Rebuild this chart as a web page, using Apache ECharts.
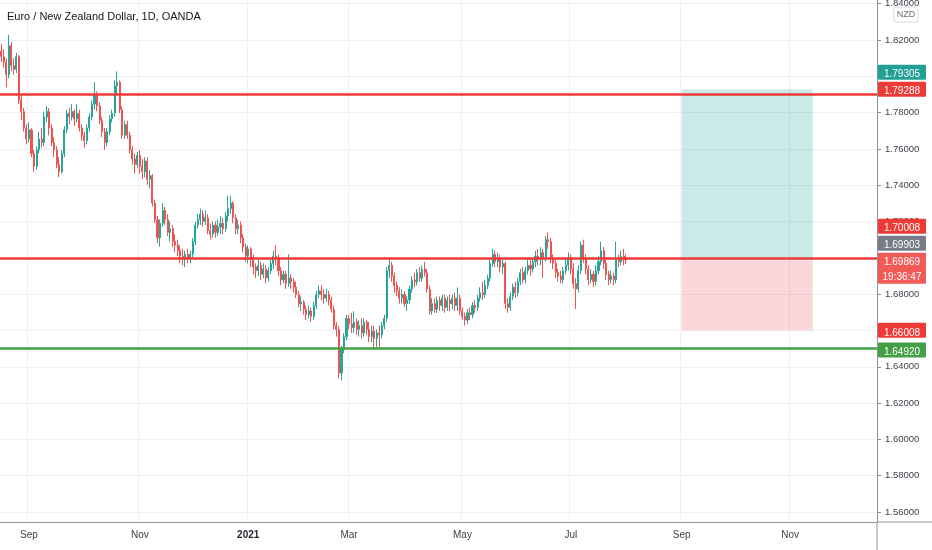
<!DOCTYPE html>
<html>
<head>
<meta charset="utf-8">
<title>EUR/NZD 1D</title>
<script src="https://cdn.jsdelivr.net/npm/echarts@6/dist/echarts.min.js"></script>
<style>
  html, body { margin: 0; padding: 0; background: #fff; }
  #chart { width: 932px; height: 550px; }
</style>
</head>
<body>
<div id="chart"></div>
<script>
// daily bars from 2020-08-17, [open, close, low, high]
var candles = [
  [1.8138, 1.8108, 1.8078, 1.8178], [1.8108, 1.8078, 1.8048, 1.8148], [1.8078, 1.8008, 1.7938, 1.8098],
  [1.8008, 1.8168, 1.7988, 1.8228], [1.8168, 1.8058, 1.8028, 1.8188], [1.8058, 1.8038, 1.8008, 1.8098],
  [1.8038, 1.8108, 1.8018, 1.8128], [1.8107, 1.7867, 1.7847, 1.8117], [1.7867, 1.7807, 1.7757, 1.7897],
  [1.7805, 1.7715, 1.7695, 1.7825], [1.7715, 1.7655, 1.7625, 1.7735], [1.7655, 1.7705, 1.7635, 1.7745],
  [1.7704, 1.7574, 1.7554, 1.7714], [1.7574, 1.7504, 1.7474, 1.7594], [1.7504, 1.7594, 1.7484, 1.7614],
  [1.7595, 1.7655, 1.7575, 1.7695], [1.7655, 1.7635, 1.7605, 1.7715], [1.7635, 1.7775, 1.7615, 1.7805],
  [1.7776, 1.7806, 1.7746, 1.7836], [1.7805, 1.7715, 1.7675, 1.7825], [1.7715, 1.7635, 1.7615, 1.7735],
  [1.7634, 1.7594, 1.7554, 1.7664], [1.7594, 1.7514, 1.7494, 1.7614], [1.7514, 1.7474, 1.7444, 1.7554],
  [1.7474, 1.7574, 1.7464, 1.7594], [1.7575, 1.7705, 1.7555, 1.7725], [1.7706, 1.7796, 1.7686, 1.7816],
  [1.7796, 1.7776, 1.7736, 1.7826], [1.7776, 1.7806, 1.7756, 1.7846], [1.7806, 1.7766, 1.7726, 1.7816],
  [1.7766, 1.7796, 1.7746, 1.7846], [1.7795, 1.7715, 1.7695, 1.7815], [1.7715, 1.7675, 1.7645, 1.7735],
  [1.7675, 1.7645, 1.7605, 1.7695], [1.7645, 1.7715, 1.7625, 1.7735], [1.7716, 1.7776, 1.7696, 1.7796],
  [1.7776, 1.7846, 1.7756, 1.7866], [1.7847, 1.7897, 1.7817, 1.7967], [1.7897, 1.7837, 1.7807, 1.7917],
  [1.7836, 1.7756, 1.7736, 1.7856], [1.7755, 1.7695, 1.7665, 1.7775], [1.7695, 1.7635, 1.7595, 1.7715],
  [1.7635, 1.7695, 1.7615, 1.7715], [1.7695, 1.7765, 1.7675, 1.7785], [1.7766, 1.7796, 1.7746, 1.7816],
  [1.7797, 1.7947, 1.7777, 1.7977], [1.7947, 1.7967, 1.7897, 1.8027], [1.7967, 1.7817, 1.7797, 1.7977],
  [1.7815, 1.7675, 1.7655, 1.7835], [1.7675, 1.7735, 1.7655, 1.7755], [1.7735, 1.7675, 1.7655, 1.7755],
  [1.7674, 1.7594, 1.7574, 1.7694], [1.7594, 1.7544, 1.7514, 1.7614], [1.7544, 1.7514, 1.7464, 1.7574],
  [1.7514, 1.7564, 1.7494, 1.7584], [1.7564, 1.7504, 1.7464, 1.7594], [1.7504, 1.7474, 1.7434, 1.7544],
  [1.7474, 1.7534, 1.7444, 1.7554], [1.7533, 1.7433, 1.7403, 1.7553], [1.7433, 1.7453, 1.7383, 1.7483],
  [1.7452, 1.7302, 1.7282, 1.7462], [1.7301, 1.7211, 1.7191, 1.7321], [1.7210, 1.7110, 1.7080, 1.7230],
  [1.7111, 1.7191, 1.7061, 1.7211], [1.7191, 1.7261, 1.7171, 1.7301], [1.7261, 1.7211, 1.7181, 1.7281],
  [1.7210, 1.7140, 1.7120, 1.7240], [1.7140, 1.7160, 1.7090, 1.7200], [1.7160, 1.7090, 1.7060, 1.7180],
  [1.7090, 1.7070, 1.7030, 1.7130], [1.7070, 1.7040, 1.7010, 1.7100], [1.7039, 1.7009, 1.6969, 1.7069],
  [1.7009, 1.6999, 1.6959, 1.7049], [1.6999, 1.7019, 1.6949, 1.7039], [1.7019, 1.6999, 1.6969, 1.7049],
  [1.6999, 1.7019, 1.6969, 1.7039], [1.7020, 1.7090, 1.7000, 1.7110], [1.7090, 1.7180, 1.7070, 1.7200],
  [1.7181, 1.7211, 1.7161, 1.7241], [1.7211, 1.7241, 1.7181, 1.7271], [1.7241, 1.7201, 1.7171, 1.7261],
  [1.7201, 1.7221, 1.7181, 1.7261], [1.7220, 1.7150, 1.7130, 1.7240], [1.7150, 1.7130, 1.7100, 1.7190],
  [1.7130, 1.7180, 1.7110, 1.7200], [1.7180, 1.7140, 1.7110, 1.7200], [1.7140, 1.7170, 1.7120, 1.7210],
  [1.7170, 1.7190, 1.7130, 1.7230], [1.7190, 1.7160, 1.7130, 1.7220], [1.7161, 1.7231, 1.7141, 1.7251],
  [1.7231, 1.7271, 1.7201, 1.7341], [1.7271, 1.7301, 1.7241, 1.7341], [1.7301, 1.7221, 1.7191, 1.7311],
  [1.7220, 1.7160, 1.7130, 1.7240], [1.7160, 1.7180, 1.7130, 1.7210], [1.7180, 1.7110, 1.7080, 1.7200],
  [1.7110, 1.7060, 1.7030, 1.7130], [1.7059, 1.7009, 1.6979, 1.7079], [1.7009, 1.7049, 1.6969, 1.7069],
  [1.7049, 1.6999, 1.6949, 1.7059], [1.6999, 1.6949, 1.6909, 1.7019], [1.6949, 1.6929, 1.6889, 1.6969],
  [1.6929, 1.6959, 1.6899, 1.6989], [1.6959, 1.6909, 1.6879, 1.6979], [1.6909, 1.6939, 1.6889, 1.6969],
  [1.6939, 1.6889, 1.6859, 1.6959], [1.6889, 1.6929, 1.6869, 1.6949], [1.6929, 1.6969, 1.6909, 1.6989],
  [1.6969, 1.7009, 1.6939, 1.7039], [1.7009, 1.6999, 1.6959, 1.7069], [1.6999, 1.6929, 1.6899, 1.7019],
  [1.6929, 1.6879, 1.6849, 1.6949], [1.6879, 1.6909, 1.6859, 1.6929], [1.6909, 1.6859, 1.6829, 1.6929],
  [1.6859, 1.6889, 1.6839, 1.7019], [1.6889, 1.6869, 1.6829, 1.6909], [1.6868, 1.6838, 1.6808, 1.6888],
  [1.6838, 1.6798, 1.6778, 1.6868], [1.6797, 1.6747, 1.6727, 1.6817], [1.6747, 1.6757, 1.6707, 1.6787],
  [1.6757, 1.6717, 1.6687, 1.6767], [1.6717, 1.6687, 1.6657, 1.6737], [1.6687, 1.6707, 1.6667, 1.6737],
  [1.6707, 1.6677, 1.6647, 1.6727], [1.6677, 1.6737, 1.6657, 1.6757], [1.6737, 1.6797, 1.6717, 1.6817],
  [1.6798, 1.6818, 1.6778, 1.6848], [1.6818, 1.6798, 1.6768, 1.6848], [1.6798, 1.6778, 1.6748, 1.6828],
  [1.6778, 1.6798, 1.6758, 1.6828], [1.6798, 1.6768, 1.6738, 1.6818], [1.6767, 1.6717, 1.6697, 1.6787],
  [1.6716, 1.6626, 1.6606, 1.6736], [1.6626, 1.6606, 1.6566, 1.6646], [1.6605, 1.6365, 1.6335, 1.6625],
  [1.6365, 1.6495, 1.6325, 1.6515], [1.6495, 1.6565, 1.6475, 1.6585], [1.6566, 1.6666, 1.6546, 1.6686],
  [1.6666, 1.6636, 1.6606, 1.6686], [1.6636, 1.6616, 1.6586, 1.6696], [1.6616, 1.6646, 1.6586, 1.6706],
  [1.6646, 1.6606, 1.6576, 1.6666], [1.6606, 1.6626, 1.6566, 1.6656], [1.6626, 1.6586, 1.6556, 1.6666],
  [1.6586, 1.6646, 1.6566, 1.6666], [1.6646, 1.6606, 1.6576, 1.6656], [1.6606, 1.6566, 1.6536, 1.6646],
  [1.6566, 1.6596, 1.6536, 1.6626], [1.6596, 1.6556, 1.6506, 1.6626], [1.6556, 1.6586, 1.6506, 1.6606],
  [1.6586, 1.6576, 1.6506, 1.6626], [1.6576, 1.6626, 1.6556, 1.6646], [1.6626, 1.6666, 1.6606, 1.6686],
  [1.6668, 1.6928, 1.6648, 1.6948], [1.6928, 1.6958, 1.6888, 1.6988], [1.6958, 1.6898, 1.6868, 1.6978],
  [1.6898, 1.6848, 1.6808, 1.6918], [1.6848, 1.6818, 1.6788, 1.6868], [1.6818, 1.6778, 1.6748, 1.6838],
  [1.6778, 1.6798, 1.6748, 1.6828], [1.6798, 1.6748, 1.6728, 1.6818], [1.6748, 1.6768, 1.6708, 1.6788],
  [1.6768, 1.6828, 1.6748, 1.6848], [1.6828, 1.6878, 1.6808, 1.6898], [1.6878, 1.6868, 1.6838, 1.6918],
  [1.6868, 1.6918, 1.6848, 1.6938], [1.6918, 1.6888, 1.6868, 1.6948], [1.6888, 1.6938, 1.6868, 1.6958],
  [1.6938, 1.6918, 1.6898, 1.6978], [1.6918, 1.6828, 1.6808, 1.6938], [1.6827, 1.6707, 1.6687, 1.6847],
  [1.6707, 1.6747, 1.6687, 1.6777], [1.6747, 1.6717, 1.6697, 1.6777], [1.6717, 1.6767, 1.6697, 1.6787],
  [1.6767, 1.6737, 1.6707, 1.6787], [1.6737, 1.6777, 1.6707, 1.6797], [1.6777, 1.6727, 1.6697, 1.6797],
  [1.6727, 1.6767, 1.6707, 1.6787], [1.6767, 1.6747, 1.6707, 1.6797], [1.6747, 1.6777, 1.6717, 1.6797],
  [1.6777, 1.6737, 1.6707, 1.6807], [1.6737, 1.6777, 1.6707, 1.6837], [1.6777, 1.6707, 1.6687, 1.6797],
  [1.6707, 1.6677, 1.6657, 1.6727], [1.6677, 1.6657, 1.6627, 1.6697], [1.6657, 1.6697, 1.6637, 1.6717],
  [1.6697, 1.6687, 1.6657, 1.6727], [1.6687, 1.6737, 1.6667, 1.6757], [1.6737, 1.6727, 1.6697, 1.6767],
  [1.6727, 1.6777, 1.6707, 1.6797], [1.6778, 1.6808, 1.6758, 1.6838], [1.6808, 1.6798, 1.6768, 1.6868],
  [1.6798, 1.6848, 1.6778, 1.6878], [1.6848, 1.6888, 1.6828, 1.6908], [1.6889, 1.6969, 1.6869, 1.6999],
  [1.6969, 1.7019, 1.6949, 1.7049], [1.7019, 1.6979, 1.6949, 1.7039], [1.6979, 1.6999, 1.6949, 1.7029],
  [1.6999, 1.6949, 1.6919, 1.7019], [1.6949, 1.6969, 1.6909, 1.6999], [1.6969, 1.6749, 1.6719, 1.6979],
  [1.6747, 1.6727, 1.6697, 1.6777], [1.6727, 1.6787, 1.6707, 1.6807], [1.6788, 1.6838, 1.6768, 1.6858],
  [1.6838, 1.6808, 1.6778, 1.6868], [1.6808, 1.6868, 1.6788, 1.6888], [1.6869, 1.6919, 1.6849, 1.6939],
  [1.6919, 1.6879, 1.6859, 1.6949], [1.6879, 1.6929, 1.6859, 1.6949], [1.6929, 1.6959, 1.6909, 1.6989],
  [1.6959, 1.6939, 1.6899, 1.6999], [1.6939, 1.6979, 1.6919, 1.6999], [1.6979, 1.7009, 1.6949, 1.7039],
  [1.7009, 1.6999, 1.6959, 1.7049], [1.6999, 1.7029, 1.6959, 1.7059], [1.7029, 1.6999, 1.6889, 1.7049],
  [1.7000, 1.7100, 1.6980, 1.7120], [1.7100, 1.7090, 1.7050, 1.7140], [1.7090, 1.7000, 1.6970, 1.7110],
  [1.6999, 1.6969, 1.6939, 1.7019], [1.6969, 1.6919, 1.6889, 1.6989], [1.6919, 1.6899, 1.6869, 1.6939],
  [1.6899, 1.6879, 1.6859, 1.6929], [1.6879, 1.6929, 1.6859, 1.6949], [1.6929, 1.6959, 1.6909, 1.6999],
  [1.6959, 1.6999, 1.6929, 1.7029], [1.6999, 1.6939, 1.6909, 1.7019], [1.6939, 1.6859, 1.6829, 1.6969],
  [1.6858, 1.6828, 1.6718, 1.6888], [1.6829, 1.6929, 1.6809, 1.6959], [1.6930, 1.7070, 1.6910, 1.7090],
  [1.7070, 1.7000, 1.6970, 1.7100], [1.6999, 1.6939, 1.6909, 1.7019], [1.6939, 1.6879, 1.6849, 1.6959],
  [1.6879, 1.6909, 1.6859, 1.6939], [1.6909, 1.6869, 1.6839, 1.6929], [1.6869, 1.6929, 1.6849, 1.6959],
  [1.6929, 1.6979, 1.6909, 1.7009], [1.6979, 1.7039, 1.6959, 1.7089], [1.7039, 1.6969, 1.6939, 1.7059],
  [1.6969, 1.6909, 1.6879, 1.6989], [1.6909, 1.6879, 1.6849, 1.6929], [1.6879, 1.6899, 1.6859, 1.6929],
  [1.6899, 1.6879, 1.6849, 1.6919], [1.6879, 1.6999, 1.6859, 1.7089], [1.6999, 1.6979, 1.6949, 1.7019],
  [1.6979, 1.7009, 1.6959, 1.7039], [1.7009, 1.6989, 1.6959, 1.7049], [1.6989, 1.69869, 1.6965, 1.7019]
];

var firstDay = "2020-08-17";
var lastDay = "2021-12-17";
var closedDays = ["2020-12-25", "2021-01-01"];

var monthTicks = ["2020-09-01", "2020-11-02", "2021-01-04", "2021-03-01", "2021-05-03", "2021-07-01", "2021-09-01", "2021-11-01"];
var monthLabels = ["Sep", "Nov", "2021", "Mar", "May", "Jul", "Sep", "Nov"];

var priceTicks = [1.56, 1.58, 1.60, 1.62, 1.64, 1.66, 1.68, 1.70, 1.72, 1.74, 1.76, 1.78, 1.80, 1.82, 1.84];

var resistance = 1.79288;
var entry = 1.69869;
var support = 1.6492;
var stopLoss = 1.66008;
var tradeFrom = "2021-09-01";
var tradeTo = "2021-11-12";

var tagValues = [1.79305, 1.79288, 1.70008, 1.69903, 1.69869, 1.66008, 1.6492];
var tagColors = ["#22a095", "#ee3a36", "#ee3a36", "#787b86", "#f15a57", "#ee3a36", "#43a047"];
var countdown = "19:36:47";

function tradingDays(from, to, skip) {
  var out = [];
  var d = new Date(from + "T00:00:00Z");
  var end = new Date(to + "T00:00:00Z");
  while (d <= end) {
    var wd = d.getUTCDay();
    var s = d.toISOString().slice(0, 10);
    if (wd !== 0 && wd !== 6 && skip.indexOf(s) < 0) out.push(s);
    d.setUTCDate(d.getUTCDate() + 1);
  }
  return out;
}

var days = tradingDays(firstDay, lastDay, closedDays);
var FONT = "'Liberation Sans', Arial, sans-serif";
var AXIS = "#8f929b";
var GRIDLINE = "#eef0f4";
var LABEL = "#3e424d";

function isMonthTick(index, value) {
  return monthTicks.indexOf(value) >= 0;
}

var chart = echarts.init(document.getElementById("chart"));

var option = {
  animation: false,
  backgroundColor: "#ffffff",
  title: {
    text: "Euro / New Zealand Dollar, 1D, OANDA",
    left: 7,
    top: 11,
    padding: 0,
    textStyle: { fontFamily: FONT, fontSize: 11, fontWeight: "normal", color: "#131722" },
  },
  grid: { left: 0, right: 55, top: 0, bottom: 28, containLabel: false, outerBoundsMode: "none" },
  xAxis: {
    type: "category",
    data: days,
    boundaryGap: true,
    axisLine: { lineStyle: { color: AXIS, width: 1 } },
    axisTick: { interval: isMonthTick, alignWithLabel: true, length: 4, lineStyle: { color: AXIS } },
    axisLabel: {
      interval: isMonthTick,
      margin: 8,
      fontFamily: FONT,
      fontSize: 10,
      color: LABEL,
      formatter: function (value) {
        var t = monthLabels[monthTicks.indexOf(value)];
        return /^\d+$/.test(t) ? "{y|" + t + "}" : t;
      },
      rich: { y: { fontFamily: FONT, fontSize: 10, fontWeight: "bold", color: "#1e222d" } },
    },
    splitLine: { show: true, interval: isMonthTick, lineStyle: { color: GRIDLINE } },
  },
  yAxis: {
    type: "value",
    position: "right",
    scale: true,
    min: 1.5545,
    max: 1.842,
    axisLine: { show: true, lineStyle: { color: AXIS } },
    axisTick: { show: true, length: 4, customValues: priceTicks, lineStyle: { color: AXIS } },
    axisLabel: {
      customValues: priceTicks,
      margin: 8,
      fontFamily: FONT,
      fontSize: 9.5,
      color: LABEL,
      formatter: function (v) { return v.toFixed(5); },
    },
    splitLine: { show: true, lineStyle: { color: GRIDLINE } },
  },
  series: [
    {
      name: "EURNZD",
      type: "candlestick",
      data: candles,
      barWidth: "62%",
      itemStyle: {
        color: "#26a69a",
        color0: "#ef5350",
        borderColor: "#26a69a",
        borderColor0: "#ef5350",
        borderWidth: 1,
      },
      markArea: {
        silent: true,
        data: [
          [
            { xAxis: tradeFrom, yAxis: entry, itemStyle: { color: "rgba(38,166,154,0.24)" } },
            { xAxis: tradeTo, yAxis: resistance },
          ],
          [
            { xAxis: tradeFrom, yAxis: stopLoss, itemStyle: { color: "rgba(242,54,69,0.2)" } },
            { xAxis: tradeTo, yAxis: entry },
          ],
        ],
      },
      markLine: {
        silent: true,
        symbol: "none",
        label: { show: false },
        data: [
          { yAxis: resistance, lineStyle: { color: "#ee3a36", width: 2.5, type: "solid" } },
          { yAxis: entry, lineStyle: { color: "#ee3a36", width: 2.5, type: "solid" } },
          { yAxis: support, lineStyle: { color: "#43a047", width: 2.5, type: "solid" } },
        ],
      },
    },
  ],
};

chart.setOption(option);

// price tags on the right scale, pushed upwards when they collide
var rect = chart.getModel().getComponent("grid").coordinateSystem.getRect();
var axisX = rect.x + rect.width;
var last = candles[candles.length - 1][1];
var TAG_H = 15, TAG_GAP = 2;
var tags = tagValues.map(function (v, i) {
  return {
    value: v,
    color: tagColors[i],
    y: chart.convertToPixel({ yAxisIndex: 0 }, v),
    h: v === last ? 31 : TAG_H,
  };
});
tags.sort(function (a, b) { return b.y - a.y; });
var prevTop = Infinity;
tags.forEach(function (t) {
  var top = t.y - TAG_H / 2;
  if (top + t.h + TAG_GAP > prevTop) top = prevTop - t.h - TAG_GAP;
  t.top = top;
  prevTop = top;
});

var elements = [];
tags.forEach(function (t) {
  elements.push({
    type: "rect",
    z: 100,
    shape: { x: axisX + 1, y: t.top, width: 48, height: t.h, r: 1 },
    style: { fill: t.color },
  });
  elements.push({
    type: "text",
    z: 101,
    x: axisX + 25,
    y: t.top + 2.5,
    style: {
      text: t.value.toFixed(5) + (t.h > TAG_H ? "\n" + countdown : ""),
      fill: "#ffffff",
      font: "10px " + FONT,
      align: "center",
      lineHeight: 15,
    },
  });
});

// NZD badge and pane separators
elements.push({
  type: "rect",
  z: 100,
  shape: { x: axisX + 17, y: 7, width: 24, height: 15, r: 2 },
  style: { fill: "#ffffff", stroke: "#d6d9e0", lineWidth: 1 },
});
elements.push({
  type: "text",
  z: 101,
  x: axisX + 29,
  y: 10,
  style: { text: "NZD", fill: "#6a6d78", font: "9px " + FONT, align: "center" },
});
elements.push({
  type: "line",
  z: 50,
  shape: { x1: axisX, y1: rect.y + rect.height, x2: 932, y2: rect.y + rect.height },
  style: { stroke: AXIS, lineWidth: 1 },
});
elements.push({
  type: "line",
  z: 50,
  shape: { x1: axisX, y1: rect.y + rect.height, x2: axisX, y2: 550 },
  style: { stroke: AXIS, lineWidth: 1 },
});

chart.setOption({ graphic: { elements: elements } });

window.addEventListener("resize", function () {
  chart.resize();
});
</script>
</body>
</html>
